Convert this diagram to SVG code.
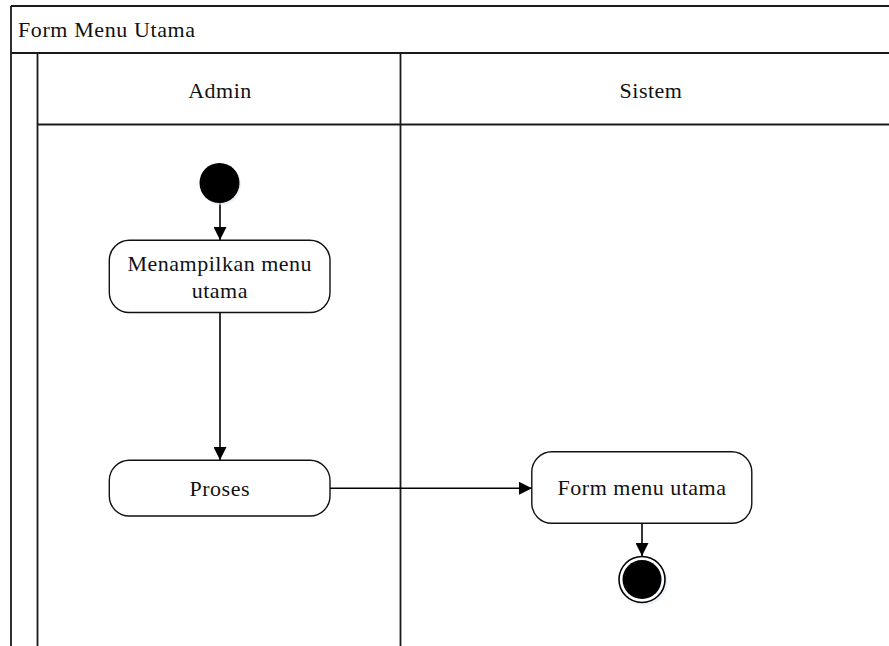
<svg xmlns="http://www.w3.org/2000/svg" width="889" height="646" viewBox="0 0 889 646">
<style>
.frame{fill:none;stroke:#1a1a1a;stroke-width:1.8}
.node{fill:#fff;stroke:#111;stroke-width:1.4}
.lbl{font-family:"Liberation Serif","Times New Roman",serif;font-size:22px;letter-spacing:0.5px;fill:#111;text-anchor:middle}
.title{font-family:"Liberation Serif","Times New Roman",serif;font-size:22px;letter-spacing:0.6px;fill:#111}
.edge{fill:none;stroke:#000;stroke-width:1.6}
</style>
<defs>
<marker id="arr" viewBox="0 0 13 13" refX="13" refY="6.5" markerWidth="13" markerHeight="13" markerUnits="userSpaceOnUse" orient="auto">
<path d="M0,0 L13,6.5 L0,13 Z" fill="#000"/>
</marker>
</defs>
<rect width="889" height="646" fill="#fff"/>
<g id="frame">
<line class="frame" x1="11" y1="6" x2="889" y2="6"/>
<line class="frame" x1="11" y1="6" x2="11" y2="646"/>
<line class="frame" x1="11" y1="53" x2="889" y2="53"/>
<line class="frame" x1="37.5" y1="53" x2="37.5" y2="646"/>
<line class="frame" x1="37.5" y1="124.5" x2="889" y2="124.5"/>
<line class="frame" x1="400.5" y1="53" x2="400.5" y2="646"/>
<text class="title" x="18" y="37">Form Menu Utama</text>
<text class="lbl" x="220" y="98">Admin</text>
<text class="lbl" x="651" y="98">Sistem</text>
</g>
<g id="connectors">
<line class="edge" x1="220" y1="203" x2="220" y2="240" marker-end="url(#arr)"/>
<line class="edge" x1="220" y1="312.5" x2="220" y2="460" marker-end="url(#arr)"/>
<line class="edge" x1="330" y1="488.3" x2="532" y2="488.3" marker-end="url(#arr)"/>
<line class="edge" x1="642" y1="523" x2="642" y2="556" marker-end="url(#arr)"/>
</g>
<g id="start">
<circle cx="221" cy="185" r="20" fill="#dfe9f5" opacity="0.6"/>
<circle cx="219.5" cy="183" r="20" fill="#000"/>
</g>
<g id="menampilkan">
<rect class="node" x="109.3" y="240.3" width="220.7" height="72.2" rx="20" ry="20"/>
<text class="lbl" x="219.8" y="271">Menampilkan menu</text>
<text class="lbl" x="219.8" y="298">utama</text>
</g>
<g id="proses">
<rect class="node" x="109.3" y="460.3" width="220.7" height="55.7" rx="20" ry="20"/>
<text class="lbl" x="219.8" y="496">Proses</text>
</g>
<g id="formmenu">
<rect class="node" x="531.8" y="451.8" width="220" height="71.5" rx="20" ry="20"/>
<text class="lbl" x="642" y="495">Form menu utama</text>
</g>
<g id="end">
<circle cx="643.5" cy="581.5" r="24" fill="#dfe9f5" opacity="0.6"/>
<circle cx="642" cy="579.5" r="23" fill="#fff" stroke="#000" stroke-width="1.6"/>
<circle cx="642" cy="579.5" r="19.5" fill="#000"/>
</g>
</svg>
